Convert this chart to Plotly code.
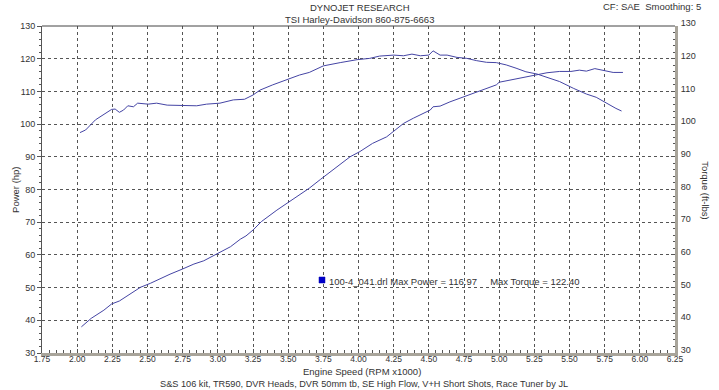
import plotly.graph_objects as go

# ---- data ----
torque_rpm = [2.02, 2.06, 2.13, 2.19, 2.245, 2.27, 2.30, 2.33, 2.36, 2.40, 2.43, 2.505, 2.565, 2.64,
              2.75, 2.85, 2.92, 3.015, 3.11, 3.19, 3.25, 3.30, 3.39, 3.49, 3.58, 3.65, 3.75, 3.87,
              3.99, 4.08, 4.15, 4.25, 4.32, 4.38, 4.44, 4.50, 4.53, 4.58, 4.63, 4.70, 4.77, 4.84,
              4.91, 4.98, 5.05, 5.12, 5.19, 5.27, 5.36, 5.43, 5.53, 5.62, 5.69, 5.76, 5.83, 5.87]
torque_val = [97.4, 98.2, 101.3, 103.1, 104.5, 104.6, 103.6, 104.3, 105.6, 105.3, 106.4, 106.1, 106.4, 105.8,
              105.8, 105.6, 106.1, 106.4, 107.4, 107.6, 108.9, 110.4, 112.0, 113.7, 115.0, 115.8, 117.8, 118.8,
              119.7, 120.1, 120.8, 121.1, 120.9, 121.4, 120.9, 121.1, 122.4, 121.1, 121.1, 120.4, 120.1, 119.4,
              118.9, 118.8, 118.1, 117.1, 116.0, 115.3, 114.0, 113.0, 110.9, 109.2, 108.2, 106.4, 104.8, 104.0]

power_rpm = [2.03, 2.10, 2.19, 2.245, 2.30, 2.38, 2.45, 2.52, 2.59, 2.66, 2.75, 2.83, 2.90, 2.99,
             3.09, 3.16, 3.20, 3.25, 3.31, 3.42, 3.50, 3.58, 3.65, 3.73, 3.80, 3.87, 3.94, 4.01,
             4.10, 4.20, 4.27, 4.32, 4.39, 4.46, 4.51, 4.53, 4.58, 4.65, 4.72, 4.77, 4.84, 4.91,
             4.98, 5.00, 5.10, 5.19, 5.27, 5.34, 5.43, 5.51, 5.57, 5.62, 5.68, 5.76, 5.81, 5.88]
power_val = [38.0, 40.6, 43.1, 45.0, 45.9, 48.0, 50.1, 51.3, 52.8, 54.1, 55.7, 57.2, 58.2, 60.3,
             62.5, 64.8, 65.8, 67.6, 70.2, 73.7, 76.0, 78.3, 80.4, 83.1, 85.4, 87.5, 90.0, 91.6,
             94.1, 96.1, 98.4, 100.2, 101.8, 103.3, 104.3, 105.3, 105.5, 106.8, 107.9, 108.9, 109.9, 110.9,
             112.0, 112.8, 113.7, 114.5, 115.2, 115.7, 116.1, 116.1, 116.5, 116.2, 116.97, 116.2, 115.8, 115.8]

x_ticks = [1.75, 2.00, 2.25, 2.50, 2.75, 3.00, 3.25, 3.50, 3.75, 4.00, 4.25, 4.50,
           4.75, 5.00, 5.25, 5.50, 5.75, 6.00, 6.25]
y_ticks = [30, 40, 50, 60, 70, 80, 90, 100, 110, 120, 130]

run_name = "100-4_041.drl"
max_power = "116.97"
max_torque = "122.40"

FONT = "Liberation Sans"
LINE = "#4444a4"
AXIS_GRAY = "#a8a49a"
GRID = "#555555"
TXT = "#333333"

fig = go.Figure()
fig.add_trace(go.Scatter(x=power_rpm, y=power_val, mode="lines",
                         line=dict(color=LINE, width=1), yaxis="y", showlegend=False))
fig.add_trace(go.Scatter(x=torque_rpm, y=torque_val, mode="lines",
                         line=dict(color=LINE, width=1), yaxis="y2", showlegend=False))

tickfont = dict(family=FONT, size=9, color=TXT)
xtickfont = dict(family=FONT, size=8.5, color=TXT)

fig.update_layout(
    width=719, height=390,
    margin=dict(l=42, r=44, t=26, b=37),
    paper_bgcolor="white", plot_bgcolor="white",
    font=dict(family=FONT, size=9, color=TXT),
    xaxis=dict(range=[1.75, 6.25], tickvals=x_ticks, ticktext=[f"{v:.2f}" for v in x_ticks],
               showgrid=True, gridcolor=GRID, griddash="dot", gridwidth=1,
               showline=True, linecolor=AXIS_GRAY, linewidth=3,
               ticks="inside", ticklen=4, tickcolor="#555555",
               minor=dict(dtick=0.05, ticks="inside", ticklen=3, tickcolor="#555555", showgrid=False),
               ticklabelstandoff=-4,
               tickfont=xtickfont, zeroline=False, fixedrange=True),
    yaxis=dict(range=[30, 130], tickvals=y_ticks,
               showgrid=True, gridcolor=GRID, griddash="dot", gridwidth=1,
               showline=True, linecolor="#555555", linewidth=1,
               ticks="outside", ticklen=4, tickcolor="#555555",
               minor=dict(dtick=2, ticks="outside", ticklen=2, tickcolor="#555555", showgrid=False),
               tickfont=tickfont, zeroline=False, fixedrange=True),
    yaxis2=dict(range=[30, 130], tickvals=y_ticks, overlaying="y", side="right",
                showgrid=False, showline=True, linecolor=AXIS_GRAY, linewidth=3,
                ticks="inside", ticklen=4, tickcolor="#555555",
                minor=dict(dtick=2, ticks="inside", ticklen=2, tickcolor="#555555"),
                ticklabelshift=-3, ticklabelstandoff=1,
                tickfont=tickfont, zeroline=False, fixedrange=True),
)

# top border
fig.add_shape(type="line", xref="paper", yref="paper", x0=0, x1=1, y0=1, y1=1,
              line=dict(color="#444444", width=1))
# legend square
fig.add_shape(type="rect", xref="paper", yref="paper", x0=0.4376, x1=0.4471, y0=0.214, y1=0.2324,
              fillcolor="#0000cc", line=dict(color="#0000aa", width=0.5))

def ann(text, x, y, xanchor="center", angle=0, size=9):
    fig.add_annotation(text=text, x=x, y=y, xref="paper", yref="paper", showarrow=False,
                       xanchor=xanchor, yanchor="middle", textangle=angle,
                       font=dict(family=FONT, size=size, color=TXT))

ann("DYNOJET RESEARCH", 0.502, 1.058, size=9.5)
ann("TSI Harley-Davidson 860-875-6663", 0.502, 1.021, size=9.5)
ann("CF: SAE  Smoothing: 5", 1.044, 1.061, xanchor="right", size=9.5)
ann("Power (hp)", -0.043, 0.498, angle=-90, size=9.5)
ann("Torque (ft-lbs)", 1.049, 0.498, angle=90, size=9.5)
ann("Engine Speed (RPM x1000)", 0.505, -0.057, size=9.5)
ann("S&S 106 kit, TR590, DVR Heads, DVR 50mm tb, SE High Flow, V+H Short Shots, Race Tuner by JL",
    0.508, -0.096, size=9.2)
ann(f"{run_name} Max Power = {max_power}     Max Torque = {max_torque}", 0.450, 0.220,
    xanchor="left", size=9.5)

fig.write_html("out.html", config={"displayModeBar": False},
               post_script="document.body.style.margin='0px';")
